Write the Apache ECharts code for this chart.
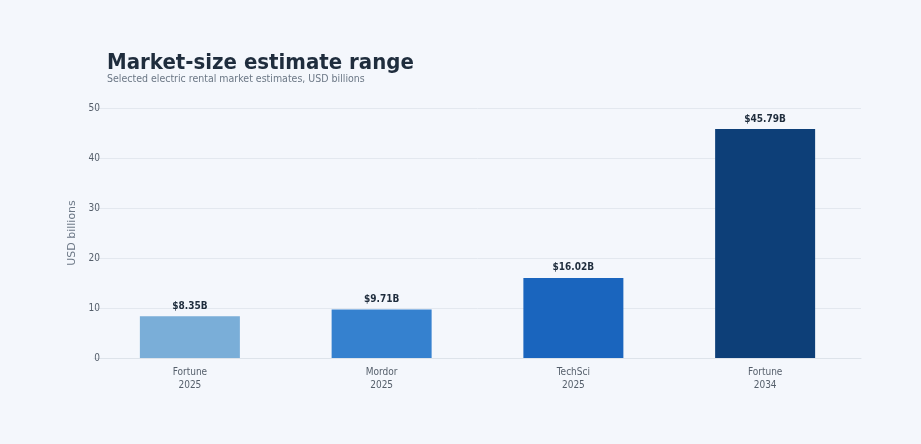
<!DOCTYPE html>
<html>
<head>
<meta charset="utf-8">
<script src="https://cdn.jsdelivr.net/npm/echarts@6/dist/echarts.min.js"></script>
<style>html,body{margin:0;background:#f4f7fc;}</style>
</head>
<body>
<div id="main" style="width:921px;height:444px;"></div>
<script>
var categories = ['Fortune\n2025', 'Mordor\n2025', 'TechSci\n2025', 'Fortune\n2034'];
var values = [8.35, 9.71, 16.02, 45.79];
var colors = ['#7aaed8', '#3581cf', '#1a65be', '#0d3f78'];

var FONT = 'DejaVu Sans Condensed';
var myChart = echarts.init(document.getElementById('main'));
var option = {
    backgroundColor: '#f4f7fc',
    textStyle: { fontFamily: FONT },
    title: {
        text: 'Market-size estimate range',
        subtext: 'Selected electric rental market estimates, USD billions',
        left: 102, top: 47, itemGap: 0,
        textStyle: { fontSize: 22, fontWeight: 900, color: '#1f2d3d', fontFamily: FONT },
        subtextStyle: { fontSize: 10.5, color: '#6b7785', fontFamily: FONT }
    },
    grid: { left: 94, right: 60, top: 108, bottom: 86 },
    xAxis: {
        type: 'category', data: categories,
        axisLine: { lineStyle: { color: '#dde3ea' } },
        axisTick: { show: false },
        axisLabel: { color: '#555f6b', fontSize: 10, lineHeight: 13 }
    },
    yAxis: {
        type: 'value', min: 0, max: 50, interval: 10,
        name: 'USD billions', nameLocation: 'middle', nameGap: -8,
        nameTextStyle: { color: '#6b7785', fontSize: 11, fontFamily: 'DejaVu Sans' },
        axisLabel: { color: '#555f6b', fontSize: 10, margin: -6 },
        splitLine: { lineStyle: { color: '#e3e8ef' } }
    },
    series: [{
        type: 'bar', barWidth: 100,
        data: values.map(function (v, i) { return { value: v, itemStyle: { color: colors[i] } }; }),
        label: {
            show: true, position: 'top', color: '#1f2d3d', fontSize: 10, fontWeight: 'bold',
            formatter: function (p) { return '$' + p.value.toFixed(2) + 'B'; }
        }
    }]
};
myChart.setOption(option);
</script>
</body>
</html>
